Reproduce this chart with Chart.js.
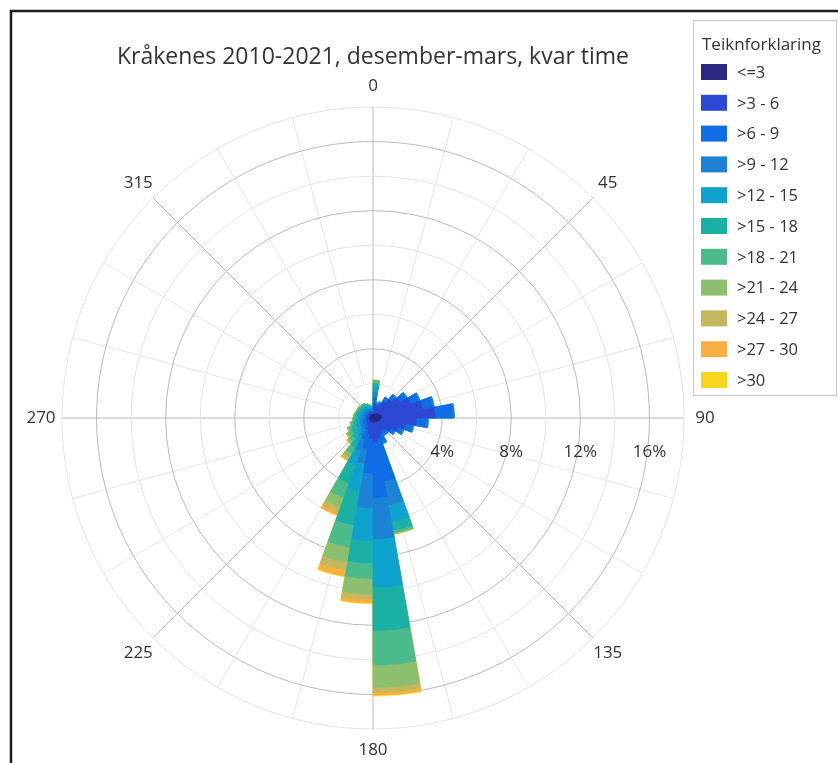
<!DOCTYPE html>
<html>
<head>
<meta charset="utf-8">
<title>Kråkenes vindrose</title>
<script src="https://cdn.jsdelivr.net/npm/chart.js@4.4.1/dist/chart.umd.min.js"></script>
<style>
  html, body { margin: 0; padding: 0; background: #fff; }
  #wrap { position: absolute; left: 0; top: 0; width: 838px; height: 763px; }
</style>
</head>
<body>
<div id="wrap"><canvas id="rose" width="838" height="763"></canvas></div>
<script>
// --------------------------------------------
// vindrose Kråkenes, des-mars, kvar time
// --------------------------------------------

// retningssektorar (grader), 10 grader kvar, med klokka frå nord
const sektorar = ['0-10', '10-20', '20-30', '30-40', '40-50', '50-60', '60-70', '70-80', '80-90',
    '90-100', '100-110', '110-120', '120-130', '130-140', '140-150', '150-160', '160-170', '170-180',
    '180-190', '190-200', '200-210', '210-220', '220-230', '230-240', '240-250', '250-260', '260-270',
    '270-280', '280-290', '290-300', '300-310', '310-320', '320-330', '330-340', '340-350', '350-360'];

// vindstyrkeklassar (m/s) og fargar
const klassar = ['<=3', '>3 - 6', '>6 - 9', '>9 - 12', '>12 - 15', '>15 - 18', '>18 - 21', '>21 - 24', '>24 - 27', '>27 - 30', '>30'];
const fargar = ['#2b2783', '#2c48d4', '#0f6de6', '#1c82d6', '#0ea2cf', '#1bb0a6', '#4cbb8b', '#8dc06e', '#c5b75b', '#f7b03f', '#f7d61f'];

// frekvens i prosent per sektor (lest av figuren)
const v_le3   = [0.2, 0.2, 0.25, 0.3, 0.35, 0.4, 0.45, 0.5, 0.5, 0.45, 0.4, 0.35, 0.3, 0.3, 0.25, 0.25, 0.25, 0.25,
                 0.25, 0.2, 0.2, 0.2, 0.2, 0.2, 0.2, 0.2, 0.2, 0.2, 0.2, 0.2, 0.2, 0.2, 0.2, 0.2, 0.2, 0.2];
const v_3_6   = [0.6, 0.45, 0.5, 0.8, 1.05, 1.4, 1.85, 2.4, 3.1, 2.05, 1.5, 1.15, 0.9, 0.65, 0.65, 0.75, 0.95, 1.15,
                 0.95, 0.7, 0.5, 0.3, 0.25, 0.2, 0.2, 0.18, 0.16, 0.15, 0.15, 0.14, 0.14, 0.13, 0.13, 0.12, 0.1, 0.08];
const v_6_9   = [0.4, 0.15, 0.17, 0.23, 0.3, 0.4, 0.5, 0.6, 1.0, 0.6, 0.4, 0.3, 0.25, 0.2, 0.22, 0.4, 2.5, 3.2,
                 2.0, 0.9, 0.6, 0.3, 0.25, 0.2, 0.2, 0.17, 0.16, 0.15, 0.15, 0.14, 0.14, 0.14, 0.14, 0.12, 0.1, 0.09];
const v_9_12  = [0.3, 0.08, 0.08, 0.07, 0.1, 0.1, 0.1, 0.1, 0.1, 0.1, 0.1, 0.1, 0.05, 0.05, 0.08, 0.15, 1.4, 2.4,
                 2.0, 0.9, 0.7, 0.4, 0.25, 0.25, 0.2, 0.2, 0.18, 0.18, 0.16, 0.16, 0.16, 0.15, 0.15, 0.13, 0.12, 0.09];
const v_12_15 = [0.3, 0.02, 0, 0, 0, 0, 0, 0, 0, 0, 0, 0, 0, 0, 0, 0.05, 1.0, 2.8,
                 1.9, 1.6, 0.9, 0.4, 0.3, 0.25, 0.25, 0.2, 0.18, 0.17, 0.16, 0.16, 0.16, 0.15, 0.15, 0.13, 0.11, 0.1];
const v_15_18 = [0.2, 0, 0, 0, 0, 0, 0, 0, 0, 0, 0, 0, 0, 0, 0, 0, 0.5, 2.5,
                 1.3, 2.0, 1.1, 0.4, 0.3, 0.3, 0.25, 0.2, 0.17, 0.15, 0.15, 0.13, 0.13, 0.13, 0.13, 0.11, 0.09, 0.08];
const v_18_21 = [0.15, 0, 0, 0, 0, 0, 0, 0, 0, 0, 0, 0, 0, 0, 0, 0, 0.15, 2.0,
                 0.9, 1.3, 0.9, 0.4, 0.25, 0.22, 0.2, 0.15, 0.12, 0.12, 0.1, 0.09, 0.09, 0.08, 0.08, 0.07, 0.06, 0.05];
const v_21_24 = [0.05, 0, 0, 0, 0, 0, 0, 0, 0, 0, 0, 0, 0, 0, 0, 0, 0.05, 1.3,
                 0.9, 0.9, 0.6, 0.25, 0.13, 0.13, 0.1, 0.05, 0.03, 0.03, 0.03, 0.03, 0.03, 0.02, 0.02, 0.02, 0.02, 0.01];
const v_24_27 = [0, 0, 0, 0, 0, 0, 0, 0, 0, 0, 0, 0, 0, 0, 0, 0, 0.02, 0.3,
                 0.3, 0.45, 0.3, 0.15, 0.05, 0.05, 0, 0, 0, 0, 0, 0, 0, 0, 0, 0, 0, 0];
const v_27_30 = [0, 0, 0, 0, 0, 0, 0, 0, 0, 0, 0, 0, 0, 0, 0, 0, 0.01, 0.15,
                 0.2, 0.35, 0.2, 0.08, 0.02, 0, 0, 0, 0, 0, 0, 0, 0, 0, 0, 0, 0, 0];
const v_over30 = [0, 0, 0, 0, 0, 0, 0, 0, 0, 0, 0, 0, 0, 0, 0, 0, 0.01, 0.05,
                 0.05, 0.05, 0.02, 0.02, 0, 0, 0, 0, 0, 0, 0, 0, 0, 0, 0, 0, 0, 0];

// aksetekstar
const retningTekst = [0, 45, 90, 135, 180, 225, 270, 315];
const prosentTekst = [4, 8, 12, 16];

const tittel = 'Kråkenes 2010-2021, desember-mars, kvar time';
const legendeTittel = 'Teiknforklaring';

Chart.defaults.font.family = "'Open Sans', sans-serif";

// stabla verdiar: kvar klasse blir teikna frå sentrum til kumulativ sum
const klasseData = [v_le3, v_3_6, v_6_9, v_9_12, v_12_15, v_15_18, v_18_21, v_21_24, v_24_27, v_27_30, v_over30];
let sum = sektorar.map(() => 0);
const datasets = klasseData.map((arr, k) => {
    sum = sum.map((s, i) => s + arr[i]);
    return {
        label: klassar[k],
        data: sum.slice(),
        backgroundColor: fargar[k],
        borderColor: fargar[k],
        borderWidth: 0.5
    };
});

// radielle linjer kvar 15. grad (under sirklane)
const vinkelLinjer = {
    id: 'vinkelLinjer',
    beforeDraw(chart) {
        const r = chart.scales.r;
        const ctx = chart.ctx;
        const rMax = r.getDistanceFromCenterForValue(r.max);
        const rMin = r.getDistanceFromCenterForValue(2);
        ctx.save();
        ctx.lineWidth = 1;
        for (let a = 0; a < 360; a += 15) {
            const hoved = a % 45 === 0;
            const rad = (a - 90) * Math.PI / 180;
            const r0 = hoved ? 0 : rMin;
            ctx.strokeStyle = hoved ? '#b9b9b9' : '#e6e6e6';
            ctx.beginPath();
            ctx.moveTo(r.xCenter + r0 * Math.cos(rad), r.yCenter + r0 * Math.sin(rad));
            ctx.lineTo(r.xCenter + rMax * Math.cos(rad), r.yCenter + rMax * Math.sin(rad));
            ctx.stroke();
        }
        ctx.restore();
    }
};

// gradtal rundt og prosenttal langs aksen
const aksetekst = {
    id: 'aksetekst',
    afterDatasetsDraw(chart) {
        const r = chart.scales.r;
        const ctx = chart.ctx;
        const rTekst = r.drawingArea + 21;
        ctx.save();
        ctx.fillStyle = '#333';
        ctx.font = "17px 'Open Sans', sans-serif";
        ctx.textAlign = 'center';
        ctx.textBaseline = 'middle';
        retningTekst.forEach(a => {
            const rad = (a - 90) * Math.PI / 180;
            ctx.fillText(String(a), r.xCenter + rTekst * Math.cos(rad), r.yCenter + rTekst * Math.sin(rad));
        });
        prosentTekst.forEach(p => {
            ctx.fillText(p + '%', r.xCenter + r.getDistanceFromCenterForValue(p), r.yCenter + 34);
        });
        ctx.restore();
    }
};

// teiknforklaring i boks til høgre + ramme
const legende = {
    id: 'legende',
    afterDraw(chart) {
        const ctx = chart.ctx;
        ctx.save();
        ctx.strokeStyle = '#c8c8c8';
        ctx.lineWidth = 1;
        ctx.strokeRect(693.5, 20.5, 143, 375);
        ctx.fillStyle = '#333';
        ctx.textBaseline = 'middle';
        ctx.font = "17px 'Open Sans', sans-serif";
        ctx.fillText(legendeTittel, 702, 45);
        ctx.font = "16.5px 'Open Sans', sans-serif";
        chart.data.datasets.forEach((ds, i) => {
            const y = 72 + i * 30.8;
            ctx.fillStyle = ds.backgroundColor;
            ctx.fillRect(701, y - 8, 26, 16);
            ctx.fillStyle = '#333';
            ctx.fillText(ds.label, 737, y + 1);
        });
        // svart ramme oppe og til venstre
        ctx.strokeStyle = '#1e1e1e';
        ctx.lineWidth = 2.5;
        ctx.beginPath();
        ctx.moveTo(11, 763);
        ctx.lineTo(11, 11);
        ctx.lineTo(838, 11);
        ctx.stroke();
        ctx.restore();
    }
};

new Chart(document.getElementById('rose'), {
    type: 'polarArea',
    data: { labels: sektorar, datasets },
    options: {
        responsive: false,
        animation: false,
        layout: { padding: { left: 62, right: 154, top: 0, bottom: 34 } },
        plugins: {
            legend: { display: false },
            tooltip: { enabled: false },
            title: {
                display: true,
                text: tittel,
                color: '#333',
                font: { size: 23, weight: 'normal' },
                padding: { top: 43.2, bottom: 36.2 }
            }
        },
        scales: {
            r: {
                min: 0,
                max: 18,
                startAngle: 0,
                ticks: { stepSize: 2, display: false },
                grid: {
                    circular: true,
                    lineWidth: 1,
                    color: c => (c.tick && c.tick.value % 4 === 0) ? '#b9b9b9' : '#e3e3e3'
                },
                angleLines: { display: false },
                pointLabels: { display: false }
            }
        }
    },
    plugins: [vinkelLinjer, aksetekst, legende]
});
</script>
</body>
</html>
